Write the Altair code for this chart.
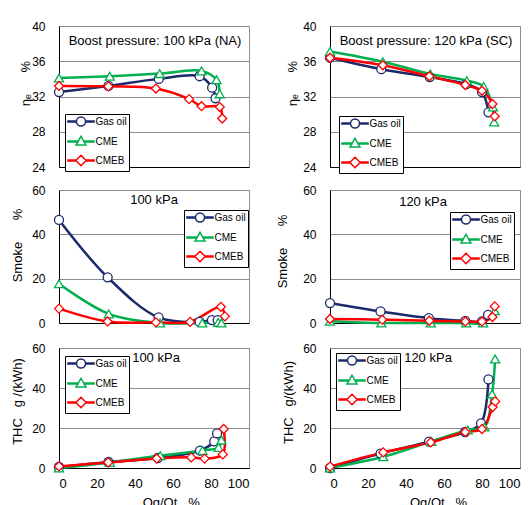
import altair as alt
import pandas as pd

SERIES = ["Gas oil", "CME", "CMEB"]
COLORS = ["#1B2A6B", "#00B050", "#FF0000"]
SHAPES = ["circle", "triangle-up", "diamond"]
LEG_SHAPES = [
    "M-2.9,-0.12L-1,-0.12L-1,0.12L-2.9,0.12ZM1,-0.12L2.9,-0.12L2.9,0.12L1,0.12ZM-1,0A1,1,0,1,1,1,0A1,1,0,1,1,-1,0Z",
    "M-2.9,-0.12L-0.67,-0.12L-0.67,0.12L-2.9,0.12ZM0.67,-0.12L2.9,-0.12L2.9,0.12L0.67,0.12ZM0,-1.15L1.1,0.75L-1.1,0.75Z",
    "M-2.9,-0.12L-1.15,-0.12L-1.15,0.12L-2.9,0.12ZM1.15,-0.12L2.9,-0.12L2.9,0.12L1.15,0.12ZM0,-1.15L1.15,0L0,1.15L-1.15,0Z",
]
X_TICKS = [0, 20, 40, 60, 80, 100]
ETA_TICKS = [24, 28, 32, 36, 40]
PCT_TICKS = [0, 20, 40, 60]

# Panel A: thermal efficiency, 100 kPa (NA)
A_gas_x = [0, 26, 52.5, 74, 80.6, 82.4]
A_gas_y = [32.5, 33.2, 34.0, 34.3, 33.0, 31.8]
A_cme_x = [0, 26.7, 53, 75, 82.9, 84.6]
A_cme_y = [34.1, 34.3, 34.6, 34.9, 33.9, 32.3]
A_cmeb_x = [0, 26, 51, 68.5, 75, 84.6, 85.9]
A_cmeb_y = [33.2, 33.15, 32.9, 31.7, 30.9, 30.8, 29.5]

# Panel B: thermal efficiency, 120 kPa (SC)
B_gas_x = [0, 27, 52.5, 71.7, 80, 83.4]
B_gas_y = [36.4, 35.1, 34.2, 33.4, 32.5, 30.2]
B_cme_x = [0, 27.8, 52.8, 72, 80.8, 85.8, 86.4]
B_cme_y = [37.1, 35.95, 34.55, 33.8, 33.15, 30.8, 29.1]
B_cmeb_x = [0, 27.8, 52.3, 71.2, 80, 85.5, 86.7]
B_cmeb_y = [36.4, 35.55, 34.3, 33.3, 32.65, 31.15, 29.75]

# Panel C: smoke, 100 kPa
C_gas_x = [0, 25.6, 52.4, 74, 80.5, 83.5]
C_gas_y = [46.5, 20.6, 2.5, 0.5, 1.3, 1.3]
C_cme_x = [0, 26.2, 53.2, 75.4, 83.8, 85.5]
C_cme_y = [17.7, 4.1, 0, 0, 0.3, 0]
C_cmeb_x = [0, 25.6, 51, 69, 85.2, 87.3]
C_cmeb_y = [6.5, 0.7, 0.3, 0.5, 7.3, 3.0]

# Panel D: smoke, 120 kPa
D_gas_x = [0, 26.6, 52, 71.2, 80, 83.2]
D_gas_y = [9.0, 5.2, 2.2, 1.0, 0.7, 3.7]
D_cme_x = [0, 27, 53, 71.7, 80.6, 86.7]
D_cme_y = [0.8, 0, 0, 0, 0, 5.5]
D_cmeb_x = [0, 27.5, 52.3, 71.2, 80, 85.5, 86.7]
D_cmeb_y = [1.8, 1.5, 1.0, 0.7, 0.7, 2.7, 7.5]

# Panel E: THC, 100 kPa
E_gas_x = [0, 26, 52, 74.2, 81.7, 83.2]
E_gas_y = [0.5, 3.0, 5.0, 8.7, 13.3, 17.3]
E_cme_x = [0, 26.7, 53.3, 75.5, 84, 85.5]
E_cme_y = [0, 2.8, 6.2, 8.8, 10.3, 14.0]
E_cmeb_x = [0, 25.9, 51.4, 69.6, 76.6, 86.2, 86.7]
E_cmeb_y = [0.8, 2.8, 4.7, 5.3, 4.7, 6.8, 19.5]

# Panel F: THC, 120 kPa
F_gas_x = [0, 26.6, 52.1, 71.1, 79.5, 83.4]
F_gas_y = [0, 7.2, 13.2, 18, 22.3, 44.3]
F_cme_x = [0, 28, 53.3, 72.5, 81.3, 85.3, 86.9]
F_cme_y = [0, 5.6, 13.3, 19, 20.5, 37, 54.5]
F_cmeb_x = [0, 28, 53, 71.2, 80, 85.6, 86.9]
F_cmeb_y = [0.7, 7.8, 12.8, 18, 19.5, 30.5, 33.3]

NB = "\u00a0"
FONT = "Liberation Sans"


def frame(xs_list, ys_list):
    rows = []
    for s, xs, ys in zip(SERIES, xs_list, ys_list):
        for i, (xv, yv) in enumerate(zip(xs, ys)):
            rows.append({"series": s, "x": xv, "y": yv, "i": i})
    return pd.DataFrame(rows)


def panel(df, ydom, yticks, ytitle, ytx, yty, txt, tpos, legxy, h,
          bottom=False, xtx=0):
    xaxis_kw = dict(values=X_TICKS, ticks=False, grid=False, domainColor="black",
                    labelFontSize=13, labelPadding=9, labelColor="black")
    if bottom:
        xaxis_kw.update(title="Qg/Qt" + NB * 3 + "%", titleX=xtx, titleY=34,
                        titleBaseline="middle", titleFontSize=13,
                        titleFontWeight="normal", titleColor="black")
    else:
        xaxis_kw.update(labels=False, title=None)
    x = alt.X("x:Q", scale=alt.Scale(domain=[0, 100], nice=False),
              axis=alt.Axis(**xaxis_kw))
    y = alt.Y("y:Q", scale=alt.Scale(domain=ydom, nice=False),
              axis=alt.Axis(values=yticks, ticks=False, grid=True,
                            gridColor="#8c8c8c", domainColor="black",
                            labelFontSize=12, labelPadding=14, labelColor="black",
                            title=ytitle, titleX=ytx, titleY=yty,
                            titleBaseline="middle", titleAlign="center",
                            titleFontSize=13, titleFontWeight="normal",
                            titleColor="black"))
    stroke_scale = alt.Scale(domain=SERIES, range=COLORS)
    base = alt.Chart(df)
    lines = base.mark_line(strokeWidth=2.5, interpolate="catmull-rom").encode(
        x=x, y=y,
        stroke=alt.Stroke("series:N", scale=stroke_scale, legend=None),
        order="i:Q")
    pts = base.mark_point(filled=True, fill="white", size=81, strokeWidth=1.3,
                          opacity=1).encode(
        x=x, y=y,
        stroke=alt.Stroke("series:N", scale=stroke_scale, legend=None),
        shape=alt.Shape("series:N", scale=alt.Scale(domain=SERIES, range=SHAPES),
                        legend=None))
    leg = dict(orient="none", legendX=legxy[0], legendY=legxy[1], title=None,
               strokeColor="black", fillColor="white", padding=2,
               symbolOffset=8.5, labelOffset=9, labelFont=FONT,
               labelFontSize=10, rowPadding=4, symbolStrokeWidth=1.5,
               symbolSize=81, labelColor="black")
    legend_layer = base.transform_filter("false").mark_point(
        filled=True, fill="white", size=81, strokeWidth=1.5, opacity=1).encode(
        x=x, y=y,
        stroke=alt.Stroke("series:N", scale=stroke_scale, legend=alt.Legend(**leg)),
        shape=alt.Shape("series:N", scale=alt.Scale(domain=SERIES, range=LEG_SHAPES),
                        legend=alt.Legend(**leg)))
    label = alt.Chart(pd.DataFrame({"t": [txt]})).mark_text(
        font=FONT, fontSize=13, color="black", baseline="middle", align="center"
    ).encode(text="t:N", x=alt.value(tpos[0]), y=alt.value(tpos[1]))
    return alt.layer(lines, pts, legend_layer, label).resolve_scale(
        stroke="independent", shape="independent").properties(width=190, height=h)


eta_t = "η\u2091" + NB * 6 + "%"
smoke_t = "Smoke" + NB * 6 + "%"

pA = panel(frame([A_gas_x, A_cme_x, A_cmeb_x], [A_gas_y, A_cme_y, A_cmeb_y]),
           [24, 40], ETA_TICKS, eta_t, -34, 57,
           "Boost pressure: 100 kPa (NA)", (96, 15), (6, 88), 141)
pB = panel(frame([B_gas_x, B_cme_x, B_cmeb_x], [B_gas_y, B_cme_y, B_cmeb_y]),
           [24, 40], ETA_TICKS, eta_t, -38, 57,
           "Boost pressure: 120 kPa (SC)", (96, 15), (9, 90), 141)
pC = panel(frame([C_gas_x, C_cme_x, C_cmeb_x], [C_gas_y, C_cme_y, C_cmeb_y]),
           [0, 60], PCT_TICKS, smoke_t, -41.5, 55,
           "100 kPa", (95, 10), (125, 20), 133)
pD = panel(frame([D_gas_x, D_cme_x, D_cmeb_x], [D_gas_y, D_cme_y, D_cmeb_y]),
           [0, 60], PCT_TICKS, smoke_t, -48, 61,
           "120 kPa", (93, 12), (120, 22), 133)
pE = panel(frame([E_gas_x, E_cme_x, E_cmeb_x], [E_gas_y, E_cme_y, E_cmeb_y]),
           [0, 60], PCT_TICKS, "THC" + NB * 3 + "g /(kWh)", -42, 53,
           "100 kPa", (97, 10), (6, 8), 120, bottom=True, xtx=111.7)
pF = panel(frame([F_gas_x, F_cme_x, F_cmeb_x], [F_gas_y, F_cme_y, F_cmeb_y]),
           [0, 60], PCT_TICKS, "THC" + NB * 3 + "g/(kWh)", -42, 54,
           "120 kPa", (98, 10), (6, 5), 120, bottom=True, xtx=108)

row1 = alt.hconcat(pA, pB, spacing=81, bounds="flush")
row2 = alt.hconcat(pC, pD, spacing=81, bounds="flush")
row3 = alt.hconcat(pE, pF, spacing=81, bounds="flush")

top_rows = alt.vconcat(row1, row2, spacing=9)
chart = alt.vconcat(top_rows, row3, spacing=11).properties(
    padding={"left": 2, "top": 11, "right": 0, "bottom": 0}
).configure(font=FONT).configure_view(stroke="#8c8c8c")

chart.save("out.html", embed_options={"renderer": "svg", "actions": False})
